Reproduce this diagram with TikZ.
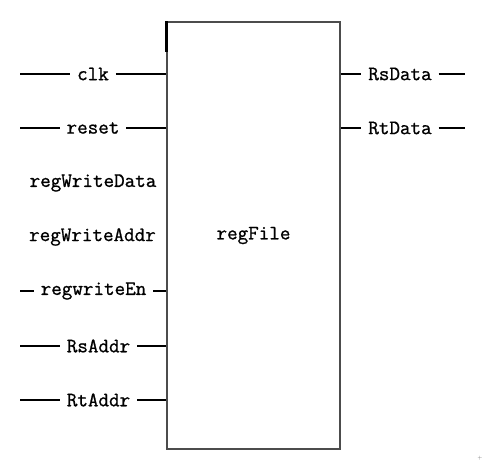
\documentclass[tikz,border=0pt]{standalone}
\usepackage{fontspec}
\newfontfamily\sigfont[FakeBold=1]{Latin Modern Mono}
\begin{document}
\begin{tikzpicture}[x=1pt,y=1pt,
    sig/.style={font=\sigfont\fontsize{20.5}{20.5}\selectfont, inner sep=0pt, outer sep=7pt},
    wire/.style={line width=1.8pt}]
    \useasboundingbox (0,0) rectangle (484,466);
    % register file block
    \node[draw=black!70, line width=1.5pt, minimum width=173pt, minimum height=427pt, inner sep=0pt,
        font=\sigfont\fontsize{20.5}{20.5}\selectfont] (rf) at (253.5,230.5) {regFile};
    \draw[line width=3pt] (rf.north west) -- ++(0,-31);
    % free ends of the wires
    \coordinate (lft) at (20,0);
    \coordinate (rgt) at (465,0);
    % inputs
    \node[sig] (clk) at (93,392) {clk};
    \node[sig] (reset) at (93,338) {reset};
    \node[sig] (wdata) at (93,283) {regWriteData};
    \node[sig] (waddr) at (92.5,229) {regWriteAddr};
    \node[sig] (wen) at (93.5,175) {regwriteEn};
    \node[sig] (rsaddr) at (98.5,120) {RsAddr};
    \node[sig] (rtaddr) at (98.5,66) {RtAddr};
    \foreach \s in {clk,reset,wen,rsaddr,rtaddr} {
        \draw[wire] (\s -| lft) -- (\s.west);
        \draw[wire] (\s.east) -- (\s -| rf.west);
    }
    % outputs
    \node[sig] (rsdata) at (400,392) {RsData};
    \node[sig] (rtdata) at (400,338) {RtData};
    \foreach \s in {rsdata,rtdata} {
        \draw[wire] (\s -| rf.east) -- (\s.west);
        \draw[wire] (\s.east) -- (\s -| rgt);
    }
    % stray mark
    \node[font=\tiny, text=black!60, inner sep=0pt] (mark) at (480,8) {+};
\end{tikzpicture}
\end{document}
